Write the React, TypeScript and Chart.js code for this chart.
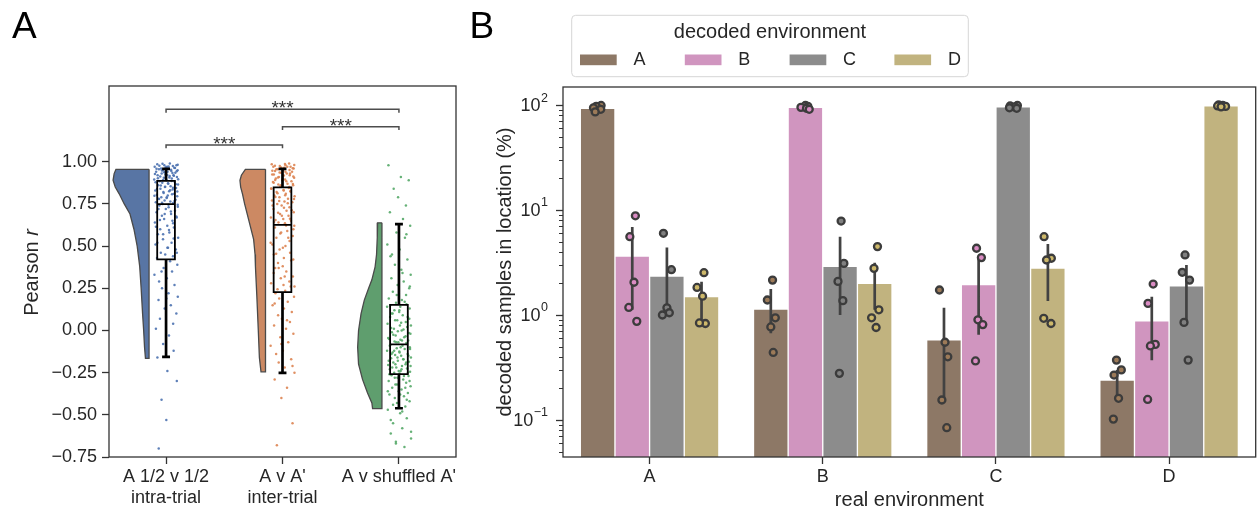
import React, { useEffect, useRef } from 'react';
import { Chart, registerables } from 'chart.js';

Chart.register(...registerables);

const FONT = '"Liberation Sans", Arial, Helvetica, sans-serif';
const TEXT = '#262626';
const SPINE = '#333333';

// ================= Panel A data =================
const GROUPS_A = [['A 1/2 v 1/2', 'intra-trial'], ["A v A'", 'inter-trial'], ["A v shuffled A'"]];
const Y_TICKS_A = [-0.75, -0.5, -0.25, 0, 0.25, 0.5, 0.75, 1.0];
const Y_MIN_A = -0.75;
const Y_MAX_A = 1.449;

const VIOLIN_COLORS = ['#5875a4', '#cc8963', '#5f9e6e'];
const STRIP_COLORS = ['rgba(76,114,176,0.9)', 'rgba(221,132,82,0.9)', 'rgba(85,168,104,0.9)'];

// violin outline: value (r) and relative density width
const VIOLIN_Y_INTRA = [0.955, 0.93, 0.89, 0.85, 0.81, 0.75, 0.69, 0.6, 0.5, 0.38, 0.25, 0.1, 0.0, -0.1, -0.165];
const VIOLIN_D_INTRA = [0.92, 0.97, 1.0, 0.94, 0.83, 0.69, 0.53, 0.42, 0.33, 0.26, 0.22, 0.18, 0.15, 0.125, 0.1];
const VIOLIN_Y_INTER = [0.955, 0.92, 0.89, 0.85, 0.81, 0.75, 0.65, 0.54, 0.45, 0.38, 0.2, 0.0, -0.16, -0.245];
const VIOLIN_D_INTER = [0.56, 0.67, 0.71, 0.69, 0.64, 0.58, 0.46, 0.33, 0.29, 0.28, 0.24, 0.2, 0.17, 0.125];
const VIOLIN_Y_SHUF = [0.638, 0.55, 0.45, 0.377, 0.3, 0.25, 0.18, 0.1, 0.0, -0.1, -0.2, -0.29, -0.37, -0.43, -0.463];
const VIOLIN_D_SHUF = [0.12, 0.13, 0.15, 0.19, 0.28, 0.37, 0.49, 0.58, 0.65, 0.675, 0.65, 0.54, 0.4, 0.28, 0.26];

// box statistics per group
const BOX_LO = [-0.157, -0.251, -0.461];
const BOX_Q1 = [0.421, 0.227, -0.259];
const BOX_MED = [0.749, 0.626, -0.083];
const BOX_Q3 = [0.887, 0.848, 0.152];
const BOX_HI = [0.958, 0.958, 0.63];

// individual Pearson r values
const R_INTRA = [
  0.99, 0.985, 0.98, 0.98, 0.975, 0.97, 0.97, 0.965, 0.96, 0.96, 0.955, 0.95, 0.95, 0.945, 0.94, 0.94, 0.935, 0.93, 0.925, 0.92, 0.92, 0.915, 0.91, 0.905, 0.9, 0.895, 0.89,
  0.885, 0.88, 0.875, 0.87, 0.865, 0.86, 0.855, 0.85, 0.845, 0.84, 0.835, 0.83, 0.825, 0.82, 0.81, 0.805, 0.8, 0.795, 0.79, 0.785, 0.78, 0.775, 0.77, 0.765, 0.76, 0.755, 0.75,
  0.745, 0.74, 0.73, 0.72, 0.71, 0.7, 0.69, 0.68, 0.67, 0.66, 0.65, 0.64, 0.62, 0.61, 0.6, 0.58, 0.57, 0.55, 0.54, 0.52, 0.51, 0.49, 0.48, 0.46, 0.45, 0.44, 0.43,
  0.41, 0.39, 0.37, 0.35, 0.33, 0.31, 0.29, 0.27, 0.25, 0.22, 0.2, 0.18, 0.15, 0.13, 0.1, 0.07, 0.04, 0.01, -0.03, -0.08, -0.12, -0.16, -0.24, -0.3, -0.41, -0.53, -0.7,
];
const R_INTRA_DENSE = [
  0.988, 0.982, 0.977, 0.972, 0.968, 0.963, 0.958, 0.953, 0.948, 0.943, 0.938, 0.933, 0.928, 0.922, 0.917, 0.912, 0.907, 0.902, 0.897, 0.892,
  0.886, 0.879, 0.872, 0.866, 0.859, 0.852, 0.846, 0.838, 0.831, 0.823, 0.815, 0.807, 0.798, 0.789, 0.779, 0.768, 0.757, 0.745, 0.733, 0.72,
  0.705, 0.69, 0.675, 0.655, 0.635, 0.615, 0.595, 0.57, 0.545, 0.52, 0.49, 0.46, 0.35, 0.19,
];
const R_INTER = [
  0.99, 0.985, 0.98, 0.975, 0.97, 0.97, 0.965, 0.96, 0.955, 0.95, 0.945, 0.94, 0.935, 0.93, 0.925, 0.92, 0.91, 0.905, 0.9, 0.895, 0.89, 0.885, 0.88, 0.87, 0.865, 0.86, 0.855,
  0.845, 0.84, 0.83, 0.825, 0.82, 0.81, 0.8, 0.795, 0.79, 0.78, 0.77, 0.765, 0.76, 0.75, 0.74, 0.73, 0.72, 0.71, 0.7, 0.69, 0.68, 0.67, 0.66, 0.655, 0.65, 0.64, 0.635,
  0.62, 0.61, 0.59, 0.58, 0.56, 0.55, 0.53, 0.51, 0.5, 0.48, 0.46, 0.45, 0.43, 0.42, 0.4, 0.38, 0.37, 0.35, 0.34, 0.32, 0.31, 0.29, 0.28, 0.27, 0.26, 0.245, 0.235,
  0.22, 0.2, 0.19, 0.17, 0.15, 0.13, 0.11, 0.09, 0.07, 0.05, 0.03, 0.01, -0.02, -0.04, -0.07, -0.09, -0.12, -0.14, -0.17, -0.19, -0.22, -0.25, -0.29, -0.34, -0.4, -0.55, -0.68,
];
const R_INTER_DENSE = [
  0.987, 0.981, 0.976, 0.971, 0.966, 0.961, 0.956, 0.951, 0.946, 0.941, 0.936, 0.93, 0.924, 0.918, 0.912, 0.906, 0.899, 0.892, 0.884, 0.876,
  0.868, 0.86, 0.851, 0.842, 0.833, 0.823, 0.813, 0.802, 0.791, 0.779, 0.767, 0.754, 0.741, 0.727, 0.712, 0.697, 0.68, 0.662, 0.643, 0.622,
  0.6, 0.575, 0.55, 0.52, 0.49, 0.455, 0.415, 0.37, 0.32, 0.26, 0.16, 0.06, -0.08, -0.21,
];
const R_SHUF = [
  0.98, 0.91, 0.89, 0.84, 0.79, 0.74, 0.7, 0.66, 0.62, 0.58, 0.55, 0.51, 0.48, 0.45, 0.42, 0.39, 0.36, 0.33, 0.31, 0.29, 0.27, 0.25, 0.23, 0.21, 0.19, 0.18, 0.165,
  0.155, 0.15, 0.14, 0.13, 0.12, 0.11, 0.1, 0.09, 0.08, 0.07, 0.06, 0.05, 0.04, 0.03, 0.02, 0.01, 0.0, -0.01, -0.02, -0.03, -0.04, -0.05, -0.055, -0.06, -0.065, -0.07, -0.075,
  -0.085, -0.09, -0.1, -0.105, -0.11, -0.12, -0.125, -0.13, -0.14, -0.145, -0.15, -0.16, -0.165, -0.17, -0.18, -0.185, -0.19, -0.2, -0.205, -0.21, -0.22, -0.225, -0.23, -0.24, -0.245, -0.25, -0.255,
  -0.265, -0.27, -0.28, -0.29, -0.3, -0.31, -0.32, -0.33, -0.34, -0.35, -0.36, -0.37, -0.38, -0.39, -0.4, -0.42, -0.43, -0.45, -0.47, -0.49, -0.52, -0.55, -0.58, -0.61, -0.64, -0.66, -0.69,
];
const R_SHUF_DENSE = [
  0.57, 0.44, 0.34, 0.26, 0.21, 0.17, 0.14, 0.12, 0.1, 0.08, 0.06, 0.045, 0.03, 0.015, 0.005, -0.005, -0.015, -0.025, -0.035, -0.045,
  -0.06, -0.07, -0.08, -0.09, -0.1, -0.11, -0.12, -0.13, -0.14, -0.15, -0.16, -0.17, -0.18, -0.19, -0.2, -0.21, -0.22, -0.23, -0.24, -0.25,
  -0.26, -0.27, -0.28, -0.3, -0.32, -0.34, -0.36, -0.38, -0.41, -0.44, -0.48, -0.53, -0.6, -0.67,
];
// horizontal jitter of the strip points (fraction of strip half-width)
const JITTER = [
  0.31, -0.72, 0.85, -0.14, 0.56, -0.93, 0.08, 0.67, -0.41, 0.22,
  -0.58, 0.94, -0.27, 0.43, -0.81, 0.12, 0.76, -0.36, -0.05, 0.61,
  -0.69, 0.29, 0.89, -0.18, 0.47, -0.97, 0.03, -0.52, 0.71, -0.31,
  0.18, 0.98, -0.64, 0.37, -0.09, 0.82, -0.46, 0.54, -0.88, 0.25,
  -0.22, 0.66, -0.75, 0.14, 0.91, -0.39, 0.05, -0.61, 0.78, -0.12,
  0.35, -0.84, 0.59, -0.29, 0.95, -0.55, 0.21, -0.02, 0.73, -0.78,
  0.41, -0.34, 0.87, -0.16, 0.52, -0.91, 0.1, 0.64, -0.48, 0.27,
  -0.67, 0.99, -0.25, 0.45, -0.86, 0.16, 0.8, -0.43, -0.07, 0.57,
  -0.74, 0.33, 0.92, -0.2, 0.49, -0.95, 0.06, -0.57, 0.69, -0.33,
  0.2, 0.96, -0.62, 0.39, -0.11, 0.84, -0.5, 0.58, -0.83, 0.24,
  -0.24, 0.62, -0.71, 0.11, 0.88, -0.37, 0.02, -0.6,
];

const SIG_PAIRS = [[0, 1], [1, 2], [0, 2]];
const SIG_HEIGHTS = [1.1, 1.208, 1.311];
const SIG_LABELS = ['***', '***', '***'];

// ================= Panel B data =================
const REAL_ENV = ['A', 'B', 'C', 'D'];
const DECODED_ENV = ['A', 'B', 'C', 'D'];
const BAR_COLORS = ['#8d7866', '#d095bf', '#8c8c8c', '#c1b37f'];
const DOT_COLORS = ['#9c7a58', '#da8bc3', '#808080', '#cdb86a'];

const MEAN_DEC_A = [93, 1.14, 0.58, 0.24];
const MEAN_DEC_B = [3.65, 95, 1.95, 0.88];
const MEAN_DEC_C = [2.35, 2.9, 96, 1.9];
const MEAN_DEC_D = [1.5, 2.0, 2.8, 98];

const CI_DEC_A = [[88, 98], [0.67, 1.77], [0.155, 1.17], [0.16, 0.3]];
const CI_DEC_B = [[1.12, 6.9], [91, 98], [0.65, 3.47], [0.37, 1.49]];
const CI_DEC_C = [[1.0, 4.4], [1.0, 5.57], [92, 99], [0.86, 3.0]];
const CI_DEC_D = [[0.85, 2.07], [1.12, 3.15], [1.36, 4.75], [96, 99]];

const PTS_DEC_A = [[99, 97, 94, 91, 86], [2.15, 1.39, 0.94, 0.77, 0.44], [1.73, 0.55, 0.4, 0.155, 0.0845], [0.372, 0.3, 0.268, 0.161, 0.102]];
const PTS_DEC_B = [[8.8, 5.57, 2.05, 1.18, 0.87], [99, 97, 95, 93, 91], [4.32, 3.52, 0.9, 0.81, 0.365], [1.97, 1.29, 0.525, 0.507, 0.157]];
const PTS_DEC_C = [[6.0, 2.7, 1.17, 1.05, 1.0], [7.85, 3.1, 2.09, 1.37, 0.278], [99, 98, 96, 94, 93], [3.73, 2.55, 2.15, 0.85, 0.372]];
const PTS_DEC_D = [[2.53, 1.83, 1.51, 0.83, 0.84], [4.48, 2.78, 1.12, 0.94, 0.76], [5.57, 3.47, 3.34, 0.93, 0.83], [100, 99, 98, 97, 96]];

const PT_JITTER = [0.1, -0.04, -0.12, 0.09, -0.07, 0.05, -0.1, 0.13, 0.0, 0.07, -0.13, 0.03, 0.11, -0.06, 0.08, -0.02, 0.12, -0.09, 0.04, -0.11];

const LOG_MIN = 0.04442;
const LOG_MAX = 148.4;
const Y_MAJOR_EXP = [-1, 0, 1, 2];

const MEANS = [MEAN_DEC_A, MEAN_DEC_B, MEAN_DEC_C, MEAN_DEC_D];
const CIS = [CI_DEC_A, CI_DEC_B, CI_DEC_C, CI_DEC_D];
const PTS = [PTS_DEC_A, PTS_DEC_B, PTS_DEC_C, PTS_DEC_D];

// ================= geometry constants =================
const VIOLIN_OFFSET = -0.146;
const VIOLIN_SCALE = 0.309;
const BOX_HALF = 0.076;
const CAP_HALF = 0.034;
const JITTER_WIDTH = 0.105;
const SIG_TIP = 0.02;
const BAR_SLOT = 0.2;

function violinOutline(g: number, ys: number[], ds: number[]) {
  const right = g + VIOLIN_OFFSET;
  const pts: any[] = [{ x: right, y: ys[0] }];
  ys.forEach((y, i) => pts.push({ x: right - ds[i] * VIOLIN_SCALE, y }));
  pts.push({ x: right, y: ys[ys.length - 1] });
  pts.push({ x: right, y: ys[0] });
  return pts;
}

function stripPoints(g: number, vals: number[], shift: number) {
  return vals.map((v, i) => ({ x: g + JITTER[(i + g * 37 + shift) % JITTER.length] * JITTER_WIDTH, y: v }));
}

const panelAPlugin = {
  id: 'panelA',
  afterDraw(chart: any) {
    const { ctx, chartArea: ca, scales } = chart;
    const x = scales.x;
    const y = scales.y;
    ctx.save();
    ctx.strokeStyle = SPINE;
    ctx.lineWidth = 1.3;
    ctx.strokeRect(ca.left, ca.top, ca.right - ca.left, ca.bottom - ca.top);

    ctx.fillStyle = '#333';
    ctx.font = `19px ${FONT}`;
    ctx.textAlign = 'center';
    ctx.textBaseline = 'alphabetic';
    SIG_PAIRS.forEach(([a, b], i) => {
      const cx = x.getPixelForValue((a + b) / 2);
      const py = y.getPixelForValue(SIG_HEIGHTS[i]);
      ctx.fillText(SIG_LABELS[i], cx, py + 5);
    });

    // y title with italic r
    ctx.fillStyle = TEXT;
    ctx.translate(32, (ca.top + ca.bottom) / 2 + 1);
    ctx.rotate(-Math.PI / 2);
    ctx.textBaseline = 'middle';
    ctx.textAlign = 'left';
    ctx.font = `20px ${FONT}`;
    const w1 = ctx.measureText('Pearson ').width;
    ctx.font = `italic 20px ${FONT}`;
    const w2 = ctx.measureText('r').width;
    const start = -(w1 + w2) / 2;
    ctx.font = `20px ${FONT}`;
    ctx.fillText('Pearson ', start, 0);
    ctx.font = `italic 20px ${FONT}`;
    ctx.fillText('r', start + w1, 0);
    ctx.restore();

    ctx.save();
    ctx.fillStyle = '#000';
    ctx.font = `37px ${FONT}`;
    ctx.textAlign = 'left';
    ctx.textBaseline = 'alphabetic';
    ctx.fillText('A', 12, 37.5);
    ctx.restore();
  },
};

const panelBPlugin = {
  id: 'panelB',
  afterDraw(chart: any) {
    const { ctx, chartArea: ca, scales } = chart;
    const y = scales.y;
    ctx.save();
    ctx.strokeStyle = SPINE;
    ctx.lineWidth = 1.3;
    ctx.strokeRect(ca.left, ca.top, ca.right - ca.left, ca.bottom - ca.top);

    // log ticks
    const decades = [0.01, 0.1, 1, 10, 100];
    decades.forEach((d) => {
      for (let m = 1; m <= 9; m++) {
        const v = m * d;
        if (v < y.min || v > y.max) continue;
        const py = Math.round(y.getPixelForValue(v)) + 0.5;
        const len = m === 1 ? 7 : 4;
        ctx.beginPath();
        ctx.lineWidth = m === 1 ? 1.3 : 1;
        ctx.moveTo(ca.left, py);
        ctx.lineTo(ca.left - len, py);
        ctx.stroke();
      }
    });

    ctx.fillStyle = TEXT;
    ctx.textAlign = 'left';
    ctx.textBaseline = 'alphabetic';
    Y_MAJOR_EXP.forEach((e) => {
      const py = y.getPixelForValue(Math.pow(10, e));
      const sup = e < 0 ? '\u2212' + String(-e) : String(e);
      ctx.font = `12.5px ${FONT}`;
      const ws = ctx.measureText(sup).width;
      ctx.font = `18px ${FONT}`;
      const wb = ctx.measureText('10').width;
      const right = ca.left - 15;
      ctx.fillText('10', right - ws - wb - 0.5, py + 6);
      ctx.font = `12.5px ${FONT}`;
      ctx.fillText(sup, right - ws, py - 3.5);
    });

    // axis titles
    ctx.font = `20px ${FONT}`;
    ctx.textAlign = 'center';
    ctx.textBaseline = 'middle';
    ctx.fillText('real environment', (ca.left + ca.right) / 2, 500);
    ctx.save();
    ctx.translate(45, (ca.top + ca.bottom) / 2);
    ctx.rotate(-Math.PI / 2);
    ctx.fillText('decoded samples in location (%)', 0, 0);
    ctx.restore();

    // legend
    const lx = 111.7, ly = 15.3, lw = 396.6, lh = 61.4, r = 4;
    ctx.beginPath();
    ctx.moveTo(lx + r, ly);
    ctx.lineTo(lx + lw - r, ly);
    ctx.quadraticCurveTo(lx + lw, ly, lx + lw, ly + r);
    ctx.lineTo(lx + lw, ly + lh - r);
    ctx.quadraticCurveTo(lx + lw, ly + lh, lx + lw - r, ly + lh);
    ctx.lineTo(lx + r, ly + lh);
    ctx.quadraticCurveTo(lx, ly + lh, lx, ly + lh - r);
    ctx.lineTo(lx, ly + r);
    ctx.quadraticCurveTo(lx, ly, lx + r, ly);
    ctx.closePath();
    ctx.fillStyle = 'rgba(255,255,255,0.85)';
    ctx.fill();
    ctx.strokeStyle = '#d6d6d6';
    ctx.lineWidth = 1;
    ctx.stroke();

    ctx.fillStyle = TEXT;
    ctx.font = `20px ${FONT}`;
    ctx.textAlign = 'center';
    ctx.fillText('decoded environment', lx + lw / 2, 32);
    ctx.textAlign = 'left';
    ctx.font = `18px ${FONT}`;
    DECODED_ENV.forEach((lab, s) => {
      const sx = 120 + s * 104.8;
      ctx.fillStyle = BAR_COLORS[s];
      ctx.fillRect(sx, 54.5, 36.7, 10.7);
      ctx.fillStyle = TEXT;
      ctx.fillText(lab, sx + 53.5, 60.5);
    });

    ctx.fillStyle = '#000';
    ctx.font = `37px ${FONT}`;
    ctx.textBaseline = 'alphabetic';
    ctx.fillText('B', 9.5, 37.5);
    ctx.restore();
  },
};

export default function App() {
  const refA = useRef<HTMLCanvasElement>(null);
  const refB = useRef<HTMLCanvasElement>(null);

  useEffect(() => {
    Chart.defaults.font.family = FONT;
    Chart.defaults.color = TEXT;

    // ---------- Panel A ----------
    const violinSets = [
      [VIOLIN_Y_INTRA, VIOLIN_D_INTRA],
      [VIOLIN_Y_INTER, VIOLIN_D_INTER],
      [VIOLIN_Y_SHUF, VIOLIN_D_SHUF],
    ].map(([ys, ds], g) => ({
      type: 'line',
      data: violinOutline(g, ys, ds),
      fill: 'shape',
      backgroundColor: VIOLIN_COLORS[g],
      borderColor: '#4a4a4a',
      borderWidth: 1.3,
      pointRadius: 0,
      tension: 0,
      order: 6,
    }));

    const stripSets = [
      [R_INTRA, R_INTRA_DENSE],
      [R_INTER, R_INTER_DENSE],
      [R_SHUF, R_SHUF_DENSE],
    ].map(([vals, dense], g) => ({
      type: 'line',
      data: [...stripPoints(g, vals, 0), ...stripPoints(g, dense, 53)],
      showLine: false,
      pointRadius: 1.25,
      pointBorderWidth: 0,
      pointBackgroundColor: STRIP_COLORS[g],
      order: 5,
    }));

    const boxData: any[] = [];
    const whiskerData: any[] = [];
    GROUPS_A.forEach((_, g) => {
      const l = g - BOX_HALF;
      const r = g + BOX_HALF;
      boxData.push(
        { x: l, y: BOX_Q1[g] }, { x: r, y: BOX_Q1[g] }, { x: r, y: BOX_Q3[g] }, { x: l, y: BOX_Q3[g] }, { x: l, y: BOX_Q1[g] }, { x: l, y: null },
        { x: l, y: BOX_MED[g] }, { x: r, y: BOX_MED[g] }, { x: r, y: null },
      );
      whiskerData.push(
        { x: g, y: BOX_LO[g] }, { x: g, y: BOX_Q1[g] }, { x: g, y: null },
        { x: g, y: BOX_Q3[g] }, { x: g, y: BOX_HI[g] }, { x: g, y: null },
        { x: g - CAP_HALF, y: BOX_LO[g] }, { x: g + CAP_HALF, y: BOX_LO[g] }, { x: g, y: null },
        { x: g - CAP_HALF, y: BOX_HI[g] }, { x: g + CAP_HALF, y: BOX_HI[g] }, { x: g, y: null },
      );
    });
    const bracketData: any[] = [];
    SIG_PAIRS.forEach(([a, b], i) => {
      const h = SIG_HEIGHTS[i];
      bracketData.push({ x: a, y: h - SIG_TIP }, { x: a, y: h }, { x: b, y: h }, { x: b, y: h - SIG_TIP }, { x: b, y: null });
    });

    const chartA = new Chart(refA.current!, {
      type: 'line',
      data: {
        datasets: [
          ...violinSets,
          ...stripSets,
          { type: 'line', data: boxData, borderColor: '#000', borderWidth: 1.8, pointRadius: 0, fill: false, spanGaps: false, borderJoinStyle: 'miter', borderCapStyle: 'square', order: 3 },
          { type: 'line', data: whiskerData, borderColor: '#000', borderWidth: 2.7, pointRadius: 0, fill: false, spanGaps: false, borderCapStyle: 'butt', order: 2 },
          { type: 'line', data: bracketData, borderColor: '#4d4d4d', borderWidth: 1.5, pointRadius: 0, fill: false, spanGaps: false, order: 1 },
        ] as any,
      },
      options: {
        responsive: false,
        animation: false,
        devicePixelRatio: 1,
        layout: { padding: { left: 0, top: 86, right: 3, bottom: 0 } },
        plugins: { legend: { display: false }, tooltip: { enabled: false } },
        events: [],
        scales: {
          x: {
            type: 'linear',
            min: -0.49,
            max: 2.49,
            afterBuildTicks: (s: any) => { s.ticks = [0, 1, 2].map((v) => ({ value: v })); },
            afterFit: (s: any) => { s.height = 57; },
            ticks: {
              callback: (_v: any, i: number) => GROUPS_A[i],
              font: { family: FONT, size: 18 },
              color: TEXT,
              padding: 2,
              maxRotation: 0,
              autoSkip: false,
            },
            grid: { drawOnChartArea: false, tickLength: 7, tickColor: SPINE, tickWidth: 1.3 },
            border: { display: false },
          },
          y: {
            type: 'linear',
            min: Y_MIN_A,
            max: Y_MAX_A,
            afterBuildTicks: (s: any) => { s.ticks = Y_TICKS_A.map((v) => ({ value: v })); },
            afterFit: (s: any) => { s.width = 109; },
            ticks: {
              callback: (v: any) => Number(v).toFixed(2).replace('-', '\u2212'),
              font: { family: FONT, size: 18 },
              color: TEXT,
              padding: 5,
            },
            grid: { drawOnChartArea: false, tickLength: 7, tickColor: SPINE, tickWidth: 1.3 },
            border: { display: false },
          },
        },
      } as any,
      plugins: [panelAPlugin],
    });

    // ---------- Panel B ----------
    const slotX = (g: number, s: number) => g + (s - 1.5) * BAR_SLOT;
    const barSets = DECODED_ENV.map((lab, s) => ({
      type: 'bar',
      label: lab,
      data: REAL_ENV.map((_, g) => ({ x: slotX(g, s), y: MEANS[s][g] })),
      backgroundColor: BAR_COLORS[s],
      borderColor: 'rgba(255,255,255,0.75)',
      borderWidth: 1,
      grouped: false,
      categoryPercentage: 1.0,
      barPercentage: 1.0,
      order: 3,
    }));
    const errSets = DECODED_ENV.map((lab, s) => {
      const d: any[] = [];
      REAL_ENV.forEach((_, g) => {
        const x = slotX(g, s);
        d.push({ x, y: CIS[s][g][0] }, { x, y: CIS[s][g][1] }, { x, y: null });
      });
      return {
        type: 'line',
        label: lab + ' ci',
        data: d,
        borderColor: '#424242',
        borderWidth: 2.7,
        pointRadius: 0,
        spanGaps: false,
        fill: false,
        borderCapStyle: 'butt',
        order: 2,
      };
    });
    const dotSets = DECODED_ENV.map((lab, s) => {
      const d: any[] = [];
      REAL_ENV.forEach((_, g) => {
        PTS[s][g].forEach((v, k) => {
          const j = PT_JITTER[(g * 5 + s * 3 + k) % PT_JITTER.length];
          d.push({ x: slotX(g, s) + j * BAR_SLOT, y: v });
        });
      });
      return {
        type: 'line',
        label: lab + ' pts',
        data: d,
        showLine: false,
        pointRadius: 3.5,
        pointBorderWidth: 2.3,
        pointBorderColor: '#3c3c3c',
        pointBackgroundColor: DOT_COLORS[s],
        order: 1,
      };
    });

    const chartB = new Chart(refB.current!, {
      type: 'bar',
      data: { datasets: [...barSets, ...errSets, ...dotSets] as any },
      options: {
        responsive: false,
        animation: false,
        devicePixelRatio: 1,
        layout: { padding: { left: 0, top: 87, right: 2.5, bottom: 0 } },
        plugins: { legend: { display: false }, tooltip: { enabled: false } },
        events: [],
        scales: {
          x: {
            type: 'linear',
            offset: false,
            min: -0.5,
            max: 3.5,
            afterBuildTicks: (s: any) => { s.ticks = REAL_ENV.map((_, i) => ({ value: i })); },
            afterFit: (s: any) => { s.height = 57; },
            ticks: { callback: (_v: any, i: number) => REAL_ENV[i], font: { family: FONT, size: 18 }, color: TEXT, padding: 2, autoSkip: false, maxRotation: 0 },
            grid: { offset: false, drawOnChartArea: false, tickLength: 7, tickColor: SPINE, tickWidth: 1.3 },
            border: { display: false },
          },
          y: {
            type: 'logarithmic',
            min: LOG_MIN,
            max: LOG_MAX,
            afterFit: (s: any) => { s.width = 103; },
            ticks: { display: false },
            grid: { display: false },
            border: { display: false },
          },
        },
      } as any,
      plugins: [panelBPlugin],
    });

    return () => {
      chartA.destroy();
      chartB.destroy();
    };
  }, []);

  return (
    <div style={{ position: 'fixed', left: 0, top: 0, width: 1258, height: 514, overflow: 'hidden', background: '#fff' }}>
      <canvas ref={refA} width={460} height={514} style={{ position: 'absolute', left: 0, top: 0, width: 460, height: 514 }} />
      <canvas ref={refB} width={802} height={514} style={{ position: 'absolute', left: 460, top: 0, width: 802, height: 514 }} />
    </div>
  );
}
